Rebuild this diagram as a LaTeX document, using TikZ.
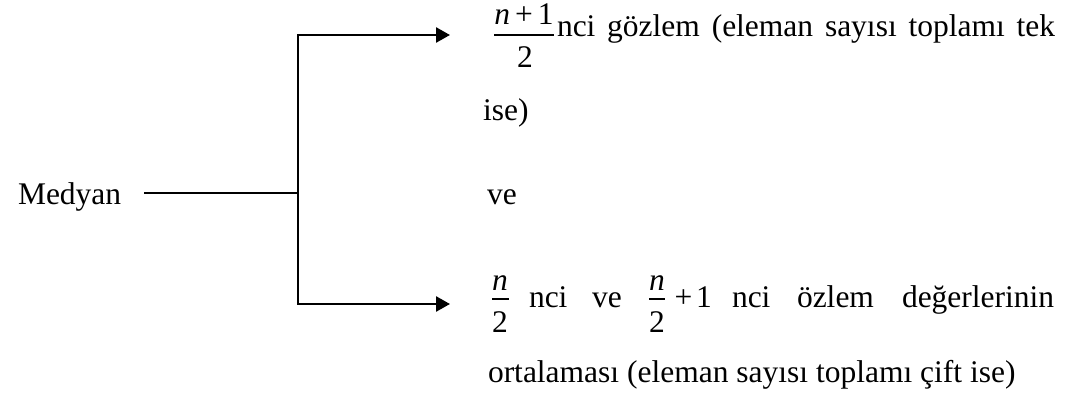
\documentclass[tikz,border=0pt]{standalone}
\usepackage{fontspec}
\setmainfont{Liberation Serif}
\usetikzlibrary{arrows.meta}
\tikzset{
  txt/.style={inner sep=0pt, outer sep=0pt, anchor=base west, font=\fontsize{31.5}{37}\selectfont},
  ctxt/.style={inner sep=0pt, outer sep=0pt, anchor=base, font=\fontsize{31.5}{37}\selectfont},
  conn/.style={line width=2.6pt, line join=miter},
  arr/.style={conn, -{Triangle[length=14pt,width=15pt]}},
  fbar/.style={line width=1.5pt}
}
\begin{document}
\begin{tikzpicture}[x=1pt,y=-1pt]
\useasboundingbox (0,0) rectangle (1071,398);
% left label
\node[txt] (med) at (18,205) {Medyan};
\coordinate (ls) at (144,193);
\coordinate (j) at (298,193);
\coordinate (t1) at (450,35);
\coordinate (t2) at (450,304);
\draw[conn] (ls) -- (j);
\draw[arr] (j) |- (t1);
\draw[arr] (j) |- (t2);
% top branch text
\node[ctxt] (num1) at (524,25) {\textit{n}\hspace{0.16em}+\hspace{0.16em}1};
\node[ctxt] (den1) at (525,68) {2};
\draw[fbar] (494,35) -- (554,35);
\node[txt] (l1) at (557,37) {\makebox[498pt][s]{nci gözlem (eleman sayısı toplamı tek}};
\node[txt] (l2) at (483,121) {ise)};
\node[txt] (ve) at (487,205) {ve};
% bottom branch text
\node[ctxt] (num2) at (500,290) {\textit{n}};
\node[ctxt] (den2) at (500,332) {2};
\draw[fbar] (492,299) -- (509,299);
\node[txt] (w1) at (529,307) {nci};
\node[txt] (w2) at (592,307) {ve};
\node[ctxt] (num3) at (657,290) {\textit{n}};
\node[ctxt] (den3) at (657,332) {2};
\draw[fbar] (649,299) -- (665,299);
\node[txt, anchor=base east] (w3) at (712,307) {+\hspace{0.12em}1};
\node[txt] (w4) at (732,307) {nci};
\node[txt] (w5) at (797,307) {özlem};
\node[txt] (w6) at (902,307) {değerlerinin};
\node[txt] (l5) at (488,382) {ortalaması (eleman sayısı toplamı çift ise)};
\end{tikzpicture}
\end{document}
